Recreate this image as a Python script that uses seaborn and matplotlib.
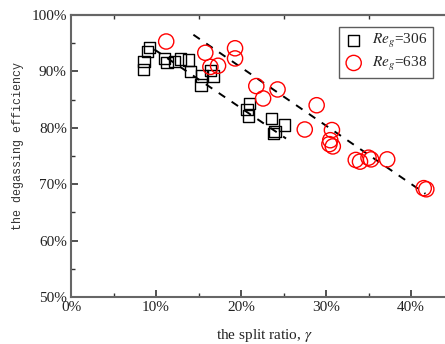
import numpy as np
import pandas as pd
import matplotlib
matplotlib.use("Agg")
import matplotlib.pyplot as plt
import seaborn as sns
from matplotlib.ticker import PercentFormatter, MultipleLocator, FixedLocator

# Re_g = 306 (squares)
x306 = [8.5, 8.6, 9.0, 9.2, 11.0, 11.3, 12.2, 12.9, 13.8, 14.1, 15.4, 15.3, 16.7, 16.4,
        21.0, 20.7, 20.9, 23.6, 25.1, 24.0, 23.8]
y306 = [90.4, 91.8, 93.5, 94.2, 92.3, 91.6, 91.8, 92.2, 92.0, 90.0, 89.2, 87.6, 89.2, 90.2,
        84.3, 83.2, 82.1, 81.6, 80.5, 79.3, 79.0]
# Re_g = 638 (circles)
x638 = [11.2, 15.8, 16.4, 17.3, 19.3, 19.3, 21.8, 22.6, 24.3, 28.9, 27.5, 30.7, 30.5, 30.4,
        30.8, 33.5, 34.0, 35.0, 35.3, 37.2, 41.5, 41.8]
y638 = [95.3, 93.3, 90.8, 91.0, 94.1, 92.3, 87.4, 85.2, 86.8, 84.0, 79.7, 79.6, 77.8, 77.1,
        76.7, 74.3, 74.0, 74.7, 74.4, 74.4, 69.3, 69.1]
# fitted dashed lines (endpoints)
fit306_x = [9.8, 25.3]
fit306_y = [93.9, 78.1]
fit638_x = [14.4, 41.7]
fit638_y = [96.5, 68.3]

labels = [r"$\mathit{Re}_{g}$=306", r"$\mathit{Re}_{g}$=638"]

sns.set_theme(style="ticks")
plt.rcParams["font.family"] = ["Liberation Serif", "DejaVu Serif"]
plt.rcParams["mathtext.fontset"] = "stix"

fig = plt.figure(figsize=(4.45, 3.44), dpi=100)
ax = fig.add_axes([71/445, 47/344, 374/445, 282/344])

d1 = pd.DataFrame({"x": x306, "y": y306})
d2 = pd.DataFrame({"x": x638, "y": y638})
sns.lineplot(x=fit306_x, y=fit306_y, ax=ax, color="black", lw=1.4, dashes=False,
             linestyle=(0, (4, 4)), zorder=1, legend=False)
sns.lineplot(x=fit638_x, y=fit638_y, ax=ax, color="black", lw=1.4, dashes=False,
             linestyle=(0, (4, 4)), zorder=1, legend=False)
sns.scatterplot(data=d1, x="x", y="y", ax=ax, marker="s", s=66, facecolor="none",
                edgecolor="black", linewidth=1.0, label=labels[0], zorder=3)
sns.scatterplot(data=d2, x="x", y="y", ax=ax, marker="o", s=120, facecolor="none",
                edgecolor="#ff0000", linewidth=1.0, label=labels[1], zorder=3)

ax.set_xlim(0, 44)
ax.set_ylim(50, 100)
ax.xaxis.set_major_locator(MultipleLocator(10))
ax.xaxis.set_minor_locator(MultipleLocator(5))
ax.yaxis.set_major_locator(MultipleLocator(10))
ax.yaxis.set_minor_locator(MultipleLocator(5))
ax.xaxis.set_major_formatter(PercentFormatter(100, decimals=0))
ax.yaxis.set_major_formatter(PercentFormatter(100, decimals=0))

spc = "#666666"
for s in ax.spines.values():
    s.set_color(spc)
    s.set_linewidth(1.5)
ax.spines["right"].set_visible(False)

ax.tick_params(which="both", direction="in", color="#333333", labelsize=11,
               labelcolor="#222222", top=False, right=False)
ax.tick_params(which="major", length=5, width=1.2, pad=3)
ax.tick_params(which="minor", length=3, width=1.0)

sec = ax.secondary_xaxis("top")
sec.xaxis.set_major_locator(FixedLocator([5, 15, 25, 35]))
sec.tick_params(direction="in", length=3, width=1.0, color="#333333", labeltop=False)
sec.spines["top"].set_color(spc)
sec.spines["top"].set_linewidth(1.5)

ax.set_xlabel(r"the split ratio, $\gamma$", fontsize=11, color="#222222")
ax.set_ylabel("the degassing efficiency", fontsize=8.4, color="#333333",
              family=["Liberation Mono", "DejaVu Sans Mono"])
ax.xaxis.set_label_coords(0.516, -0.105)
ax.yaxis.set_label_coords(-0.126, 0.534)

leg = ax.legend(loc="upper right", bbox_to_anchor=(0.967, 0.957), borderaxespad=0,
                frameon=True, fancybox=False, fontsize=11, handletextpad=0.6,
                borderpad=0.35, labelspacing=0.3, handlelength=1.2, markerscale=1.0)
leg.get_frame().set_edgecolor("#333333")
leg.get_frame().set_linewidth(1.0)

fig.savefig("out.png", dpi=100)
